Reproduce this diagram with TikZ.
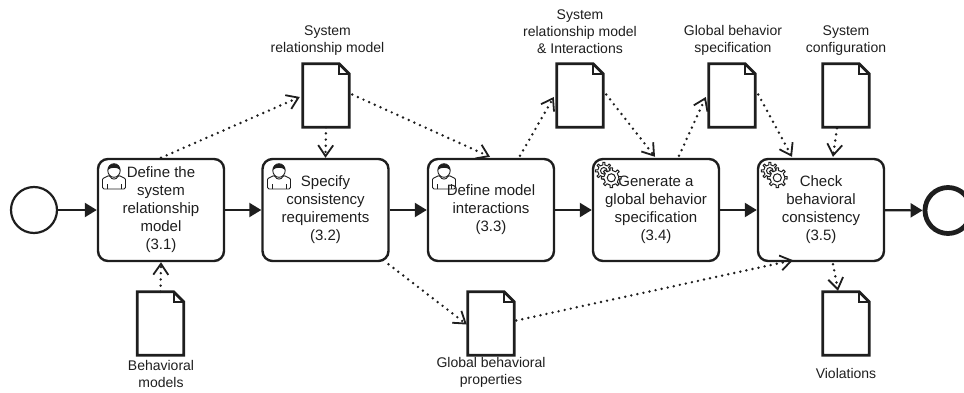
\documentclass[tikz,border=0pt]{standalone}
\usepackage{fontspec}
\setmainfont{Liberation Sans}
\usetikzlibrary{arrows.meta,calc}
\definecolor{ink}{HTML}{1E1E1E}
\tikzset{
  task/.style={draw=ink,line width=2.4pt,rounded corners=10pt,minimum width=126pt,minimum height=102pt,inner sep=0pt,align=center,text=ink,font=\fontsize{15}{18}\selectfont},
  docshape/.style={minimum width=46pt,minimum height=63pt,inner sep=0pt},
  docline/.style={draw=ink,fill=white,line width=2.8pt,line join=miter},
  foldline/.style={draw=ink,line width=1.6pt,line join=miter},
  caption/.style={inner sep=0pt,align=center,text=ink,font=\fontsize{14}{17}\selectfont},
  flow/.style={draw=ink,line width=2.2pt,-{Triangle[length=12pt,width=14pt]}},
  assoc/.style={draw=ink,line width=2.7pt,line cap=round,dash pattern=on 0pt off 6.2pt,-{Straight Barb[length=11pt,width=15pt,line width=1.8pt]}},
  startev/.style={circle,draw=ink,line width=2.2pt,minimum size=46pt,inner sep=0pt},
  endev/.style={circle,draw=ink,line width=4.8pt,minimum size=46pt,inner sep=0pt},
  iconline/.style={draw=ink,line width=1pt,fill=white},
  iconbare/.style={draw=ink,line width=.9pt},
  pics/usericon/.style={code={
    \draw[iconbare,rounded corners=1.5pt] (0,25) -- (0,17) .. controls (0,14) and (4,13) .. (7,11) .. controls (9,16) and (14,16) .. (16,11) .. controls (19,13) and (23,14) .. (23,17) -- (23,25) -- cycle;
    \draw[iconbare] (4.5,25) -- (4.5,19.5) (18.5,25) -- (18.5,19.5);
    \draw[iconbare] (11.5,6.5) ellipse [x radius=6.2,y radius=6.8];
    \fill[ink] (5.3,6) .. controls (5,-2) and (18,-2) .. (17.7,6) .. controls (15,3) and (8,3) .. (5.3,6) -- cycle;
  }},
  pics/gearicon/.style={code={
    \draw[iconline,line join=round] (0:#1) \foreach \a in {0,45,...,315} { -- (\a-9:#1) -- (\a-7:#1+2.6) -- (\a+7:#1+2.6) -- (\a+9:#1) -- (\a+36:#1) } -- cycle;
    \draw[iconline] (0,0) circle [radius=#1*0.55];
  }},
  pics/gears/.style={code={
    \pic at (0,0) {gearicon=6};
    \pic at (7.5,7) {gearicon=7.4};
  }},
}
\newcommand{\docat}[3]{%
  \node[docshape] (#1) at (#2,#3) {};
  \draw[docline] (#1.north west) -- ($(#1.north east)+(-10,0)$) -- ($(#1.north east)+(0,10)$) -- (#1.south east) -- (#1.south west) -- cycle;
  \draw[foldline] ($(#1.north east)+(-10,0)$) -- ($(#1.north east)+(-10,10)$) -- ($(#1.north east)+(0,10)$);
}
\begin{document}
\begin{tikzpicture}[x=1pt,y=-1pt]
\clip (0,0) rectangle (964,393);
\coordinate (a1) at (98,159);
\coordinate (a2) at (262.5,159);
\coordinate (a3) at (428,159);
\pic at ($(a1)+(4.5,5)$) {usericon};
\pic at ($(a2)+(5,5)$) {usericon};
\pic at ($(a3)+(4.5,5)$) {usericon};
\node[startev] (start) at (34,210) {};
\node[task] (t1) at (161,210) {Define the\\system\\relationship\\model\\(3.1)};
\node[task] (t2) at (325.5,210) {Specify\\consistency\\requirements\\(3.2)};
\node[task] (t3) at (491,210) {Define model\\interactions\\(3.3)};
\node[task] (t4) at (656,210) {Generate a\\global behavior\\specification\\(3.4)};
\node[task] (t5) at (821,210) {Check\\behavioral\\consistency\\(3.5)};
\node[endev] (stop) at (948,210.5) {};

\docat{d1}{326}{95.5}
\docat{d2}{580}{95.5}
\docat{d3}{732}{95.5}
\docat{d4}{846}{95.5}
\docat{dm}{160.5}{323.5}
\docat{dg}{491}{323.5}
\docat{dv}{846}{323.5}

\node[caption] (c1) at (327.5,40.5) {System\\relationship model};
\node[caption] (c2) at (580,31.5) {System\\relationship model\\\& Interactions};
\node[caption] (c3) at (733,40.5) {Global behavior\\specification};
\node[caption] (c4) at (846,40.5) {System\\configuration};
\node[caption] (cm) at (161,373.5) {Behavioral\\models};
\node[caption] (cg) at (491,372.5) {Global behavioral\\properties};
\node[caption] (cv) at (846,373) {Violations};

\draw[flow] (start) -- (t1);
\draw[flow] (t1) -- (t2);
\draw[flow] (t2) -- (t3);
\draw[flow] (t3) -- (t4);
\draw[flow] (t4) -- (t5);
\draw[flow] (t5) -- (stop);

\draw[assoc] (t1.north) -- ($(d1.west)+(-3,1.5)$);
\draw[assoc] (d1.south) -- (t2.north);
\draw[assoc] ($(d1.east)+(3,-1)$) -- ($(t3.north)+(-1,-1)$);
\draw[assoc] ($(t3.north)+(29,-2)$) -- ($(d2.west)+(-3,1.5)$);
\draw[assoc] ($(d2.east)+(3,-1)$) -- ($(t4.north)+(-1,-1)$);
\draw[assoc] ($(t4.north)+(23,-2)$) -- ($(d3.west)+(-3,1.5)$);
\draw[assoc] ($(d3.east)+(3,-1)$) -- ($(t5.north)+(-29,-1)$);
\draw[assoc] ($(d4.south)+(-9,1)$) -- ($(t5.north)+(12,-1)$);
\draw[assoc] ($(t2.south)+(63,2)$) -- ($(dg.west)+(-1,1)$);
\draw[assoc] ($(dg.east)+(2,-3)$) -- ($(t5.south)+(-28,-2)$);
\draw[assoc] ($(t5.south)+(12,2)$) -- ($(dv.north)+(-8,-1)$);
\draw[assoc] (dm.north) -- (t1.south);

\pic at ($(t4.north west)+(12,13)$) {gears};
\pic at ($(t5.north west)+(13,13)$) {gears};
\end{tikzpicture}
\end{document}
